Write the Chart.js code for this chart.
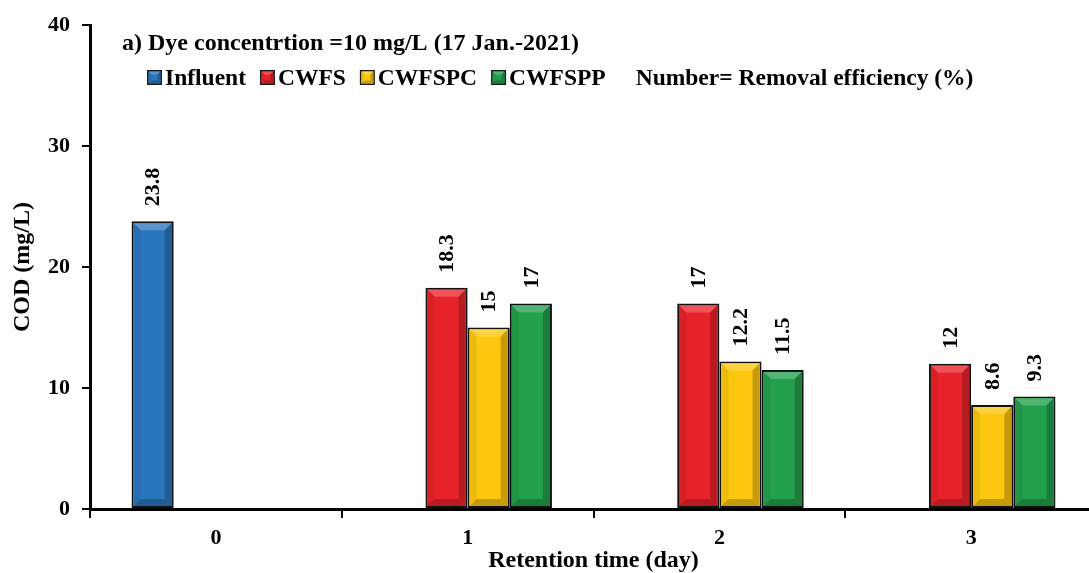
<!DOCTYPE html>
<html>
<head>
<meta charset="utf-8">
<title>COD vs retention time</title>
<script src="https://cdn.jsdelivr.net/npm/chart.js@4.4.1/dist/chart.umd.min.js"></script>
<style>
  html, body { margin: 0; padding: 0; background: #ffffff; overflow: hidden; }
  #wrap { width: 1089px; height: 573px; position: relative; overflow: hidden; }
  #chart { display: block; }
</style>
</head>
<body>
<div id="wrap"><canvas id="chart" width="1097" height="573"></canvas></div>
<script>
// Retention time categories (days)
const categories = ['0', '1', '2', '3'];

// COD (mg/L) per system
const influent = [23.8, null, null, null];
const cwfs     = [null, 18.3, 17, 12];
const cwfspc   = [null, 15, 12.2, 8.6];
const cwfspp   = [null, 17, 11.5, 9.3];

const yTicks = [0, 10, 20, 30, 40];

const seriesNames  = ['Influent', 'CWFS', 'CWFSPC', 'CWFSPP'];
const seriesColors = ['#2a76bd', '#e8222a', '#fcc70e', '#23a04c'];

const chartTitle = 'a) Dye concentrtion =10 mg/L (17 Jan.-2021)';
const legendNote = 'Number= Removal efficiency (%)';

const FONT = '"Liberation Serif", "Times New Roman", serif';

function shade(hex, amt) {
  // amt > 0 mixes toward white, amt < 0 toward black
  const n = parseInt(hex.slice(1), 16);
  let r = (n >> 16) & 255, g = (n >> 8) & 255, b = n & 255;
  const t = amt > 0 ? 255 : 0, p = Math.abs(amt);
  r = Math.round(r + (t - r) * p);
  g = Math.round(g + (t - g) * p);
  b = Math.round(b + (t - b) * p);
  return `rgb(${r},${g},${b})`;
}

// Bevelled block: light top, dark bottom, shaded sides
function drawBevel(ctx, left, top, right, bottom, color, bev) {
  const w = right - left, h = bottom - top;
  bev = Math.min(bev, w / 2, h / 2);
  ctx.save();
  ctx.fillStyle = color;
  ctx.fillRect(left, top, w, h);
  // top face
  ctx.fillStyle = shade(color, 0.22);
  ctx.beginPath();
  ctx.moveTo(left, top); ctx.lineTo(right, top);
  ctx.lineTo(right - bev, top + bev); ctx.lineTo(left + bev, top + bev);
  ctx.closePath(); ctx.fill();
  // bottom face
  ctx.fillStyle = shade(color, -0.22);
  ctx.beginPath();
  ctx.moveTo(left, bottom); ctx.lineTo(right, bottom);
  ctx.lineTo(right - bev, bottom - bev); ctx.lineTo(left + bev, bottom - bev);
  ctx.closePath(); ctx.fill();
  // left face
  ctx.fillStyle = shade(color, -0.06);
  ctx.beginPath();
  ctx.moveTo(left, top); ctx.lineTo(left + bev, top + bev);
  ctx.lineTo(left + bev, bottom - bev); ctx.lineTo(left, bottom);
  ctx.closePath(); ctx.fill();
  // right face
  ctx.fillStyle = shade(color, -0.22);
  ctx.beginPath();
  ctx.moveTo(right, top); ctx.lineTo(right - bev, top + bev);
  ctx.lineTo(right - bev, bottom - bev); ctx.lineTo(right, bottom);
  ctx.closePath(); ctx.fill();
  ctx.restore();
}

const bevelBars = {
  id: 'bevelBars',
  afterDatasetsDraw(chart) {
    const ctx = chart.ctx;
    chart.data.datasets.forEach((ds, di) => {
      const meta = chart.getDatasetMeta(di);
      meta.data.forEach((bar, i) => {
        if (ds.data[i] == null) return;
        const p = bar.getProps(['x', 'y', 'base', 'width'], true);
        const left = p.x - p.width / 2, right = p.x + p.width / 2;
        const top = Math.min(p.y, p.base), bottom = Math.max(p.y, p.base);
        const bw = 2;
        drawBevel(ctx, left + bw, top + bw, right - bw, bottom - bw, ds.backgroundColor, 7);
      });
    });
  }
};

const valueLabels = {
  id: 'valueLabels',
  afterDatasetsDraw(chart) {
    const ctx = chart.ctx;
    ctx.save();
    ctx.font = `bold 22px ${FONT}`;
    ctx.fillStyle = '#000';
    ctx.textAlign = 'left';
    ctx.textBaseline = 'middle';
    chart.data.datasets.forEach((ds, di) => {
      const meta = chart.getDatasetMeta(di);
      meta.data.forEach((bar, i) => {
        const v = ds.data[i];
        if (v == null) return;
        const p = bar.getProps(['x', 'y'], true);
        ctx.save();
        ctx.translate(p.x + 1, p.y - 15);
        ctx.rotate(-Math.PI / 2);
        ctx.fillText(String(v), 0, 0);
        ctx.restore();
      });
    });
    ctx.restore();
  }
};

const headerAndLegend = {
  id: 'headerAndLegend',
  afterDraw(chart) {
    const ctx = chart.ctx;
    ctx.save();
    ctx.fillStyle = '#000';
    ctx.textBaseline = 'alphabetic';
    ctx.textAlign = 'left';
    ctx.font = `bold 24px ${FONT}`;
    ctx.fillText(chartTitle, 122, 50);

    ctx.font = `bold 23.5px ${FONT}`;
    let x = 147;
    const boxY = 70, box = 15;
    chart.data.datasets.forEach((ds) => {
      ctx.fillStyle = '#1a1a1a';
      ctx.fillRect(x, boxY, box, box);
      drawBevel(ctx, x + 1.5, boxY + 1.5, x + box - 1.5, boxY + box - 1.5, ds.backgroundColor, 3);
      ctx.fillStyle = '#000';
      ctx.fillText(ds.label, x + box + 3, 85);
      x += box + 3 + ctx.measureText(ds.label).width + 14;
    });
    ctx.fillText(legendNote, x + 16, 85);
    ctx.restore();
  }
};

const datasets = [influent, cwfs, cwfspc, cwfspp].map((vals, k) => ({
  label: seriesNames[k],
  data: vals,
  backgroundColor: seriesColors[k],
  borderColor: '#111111',
  borderWidth: 2,
  borderSkipped: false,
  categoryPercentage: 0.67,
  barPercentage: 1.0
}));

new Chart(document.getElementById('chart'), {
  type: 'bar',
  data: { labels: categories, datasets },
  plugins: [bevelBars, valueLabels, headerAndLegend],
  options: {
    responsive: false,
    animation: false,
    layout: { padding: { top: 23, right: 0, left: 0, bottom: 0 } },
    plugins: { legend: { display: false }, tooltip: { enabled: false } },
    scales: {
      x: {
        afterFit(scale) { scale.height = 64; },
        border: { display: true, color: '#000', width: 3 },
        grid: { display: true, drawOnChartArea: false, offset: true, color: '#000', lineWidth: 2, tickLength: 9 },
        ticks: { color: '#000', padding: 7, font: { family: FONT, size: 22, weight: 'bold' } },
        title: {
          display: true, text: 'Retention time (day)', color: '#000',
          padding: { top: 0, bottom: 0 },
          font: { family: FONT, size: 24, weight: 'bold', lineHeight: 1.0 }
        }
      },
      y: {
        min: 0, max: 40,
        afterFit(scale) { scale.width = 90; },
        afterBuildTicks(scale) { scale.ticks = yTicks.map(v => ({ value: v })); },
        border: { display: true, color: '#000', width: 3 },
        grid: { display: true, drawOnChartArea: false, color: '#000', lineWidth: 2, tickLength: 8 },
        ticks: { color: '#000', padding: 12, font: { family: FONT, size: 22, weight: 'bold' } },
        title: {
          display: true, text: 'COD (mg/L)', color: '#000',
          padding: { top: 11, bottom: 0 },
          font: { family: FONT, size: 24, weight: 'bold', lineHeight: 1.0 }
        }
      }
    }
  }
});
</script>
</body>
</html>
